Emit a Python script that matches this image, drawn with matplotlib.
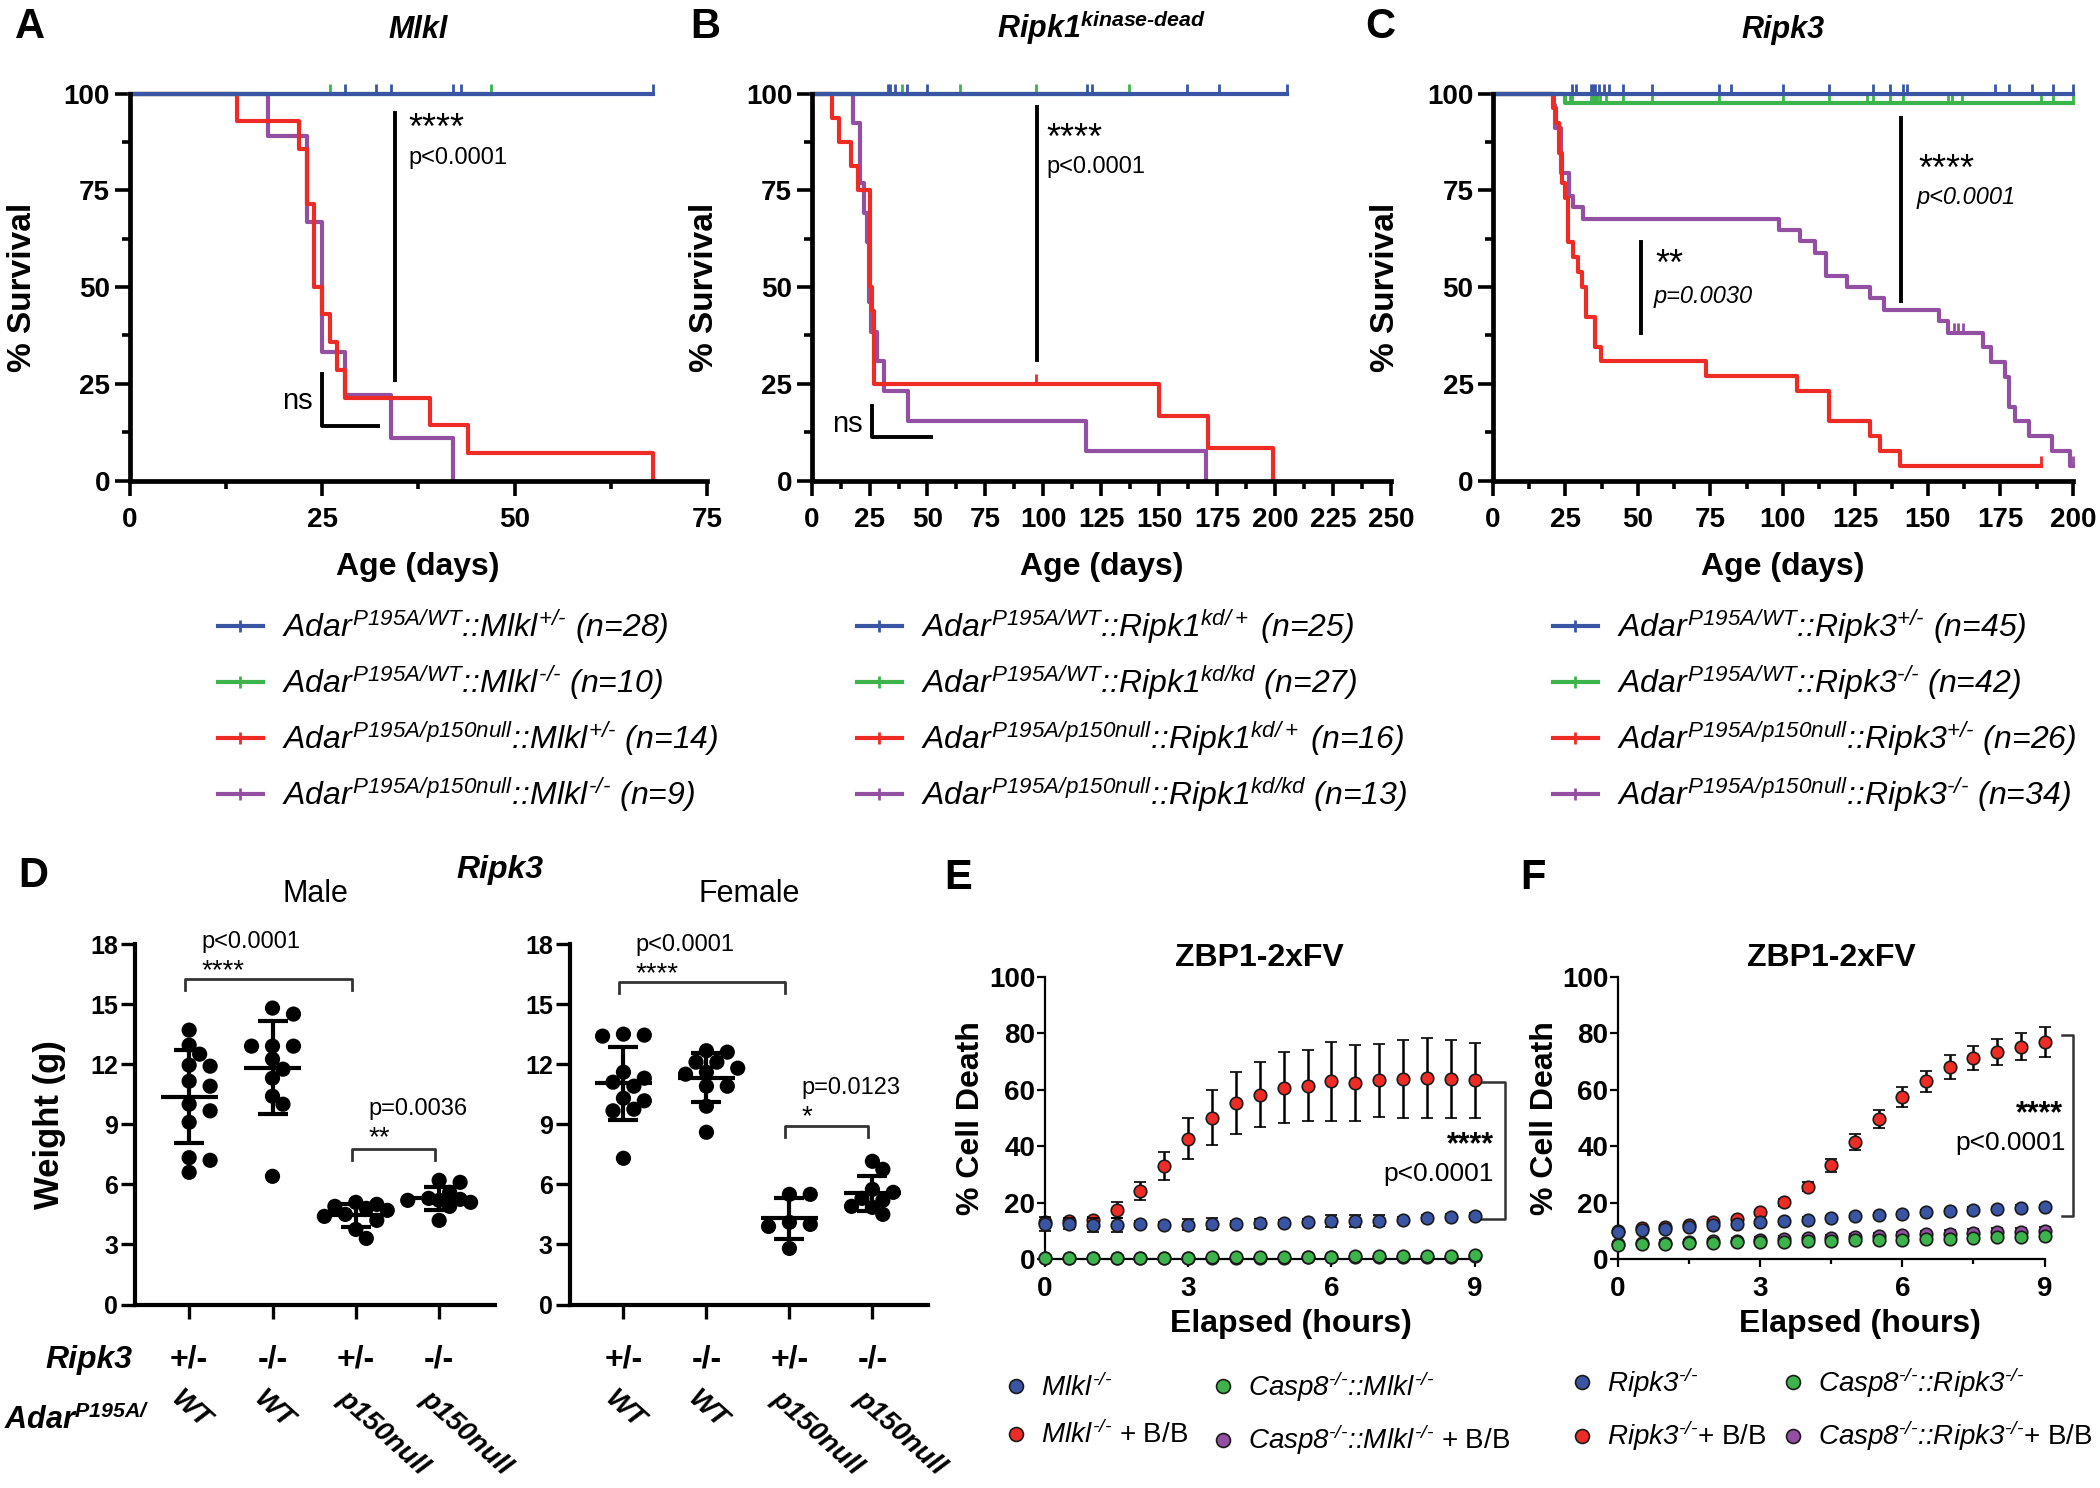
import numpy as np
import matplotlib
matplotlib.use('Agg')
import matplotlib.pyplot as plt
import matplotlib.transforms as mtransforms
from matplotlib.lines import Line2D
from matplotlib.ticker import MultipleLocator

# ============================================================================
# DATA
# ============================================================================
# Kaplan-Meier step curves: event times (days) and % survival after each step,
# plus censoring times.
# --- A: Mlkl
mlkl_wt_het_t = [0, 68]
mlkl_wt_het_s = [100, 100]
mlkl_wt_het_cens = [28, 32, 34, 42, 43, 68]
mlkl_wt_ko_t = [0, 47]
mlkl_wt_ko_s = [100, 100]
mlkl_wt_ko_cens = [26, 47]
mlkl_mut_het_t = [0, 14, 22, 23, 24, 25, 26, 27, 28, 39, 44, 68]
mlkl_mut_het_s = [100, 92.9, 85.7, 71.4, 50.0, 42.9, 35.7, 28.6, 21.4, 14.3, 7.1, 0]
mlkl_mut_ko_t = [0, 18, 23, 25, 28, 34, 42]
mlkl_mut_ko_s = [100, 88.9, 66.7, 33.3, 22.2, 11.1, 0]

# --- B: Ripk1 kinase-dead
rk1_wt_het_t = [0, 205]
rk1_wt_het_s = [100, 100]
rk1_wt_het_cens = [33, 34, 36, 41, 50, 119, 121, 162, 176, 205]
rk1_wt_kd_t = [0, 137]
rk1_wt_kd_s = [100, 100]
rk1_wt_kd_cens = [39, 64, 97, 137]
rk1_mut_het_t = [0, 9, 12, 17, 20, 25, 26, 27, 150, 171, 199]
rk1_mut_het_s = [100, 93.75, 87.5, 81.25, 75.0, 50.0, 43.75, 25.0, 16.67, 8.33, 0]
rk1_mut_het_cens = [97]
rk1_mut_kd_t = [0, 18, 21, 22.5, 23.7, 24.7, 25.8, 28.3, 31.2, 41.4, 118.5, 170]
rk1_mut_kd_s = [100, 92.3, 76.9, 69.2, 61.5, 46.2, 38.5, 30.8, 23.1, 15.4, 7.7, 0]

# --- C: Ripk3
rk3_wt_het_t = [0, 200]
rk3_wt_het_s = [100, 100]
rk3_wt_het_cens = [27.3, 28.8, 33.9, 34.5, 35.2, 36.5, 38.3, 39.9, 45, 55, 78, 82, 100,
                   116, 131, 137, 141.6, 142.7, 173, 178, 186, 193, 200]
rk3_wt_ko_t = [0, 25, 200]
rk3_wt_ko_s = [100, 97.6, 97.6]
rk3_wt_ko_cens = [26.5, 27.3, 33.7, 34.5, 35.2, 36, 37, 39, 45, 55, 78, 100, 116, 129,
                  131, 137, 141.6, 157, 158.5, 161.7, 189, 193, 200]
rk3_mut_het_t = [0, 20.8, 21.9, 22.6, 23.7, 24.9, 26, 27.7, 29.3, 30.8, 32, 35.1, 37.3,
                 73.4, 105, 116, 130, 133.5, 140.4, 189]
rk3_mut_het_s = [100, 96.2, 92.3, 84.6, 76.9, 73.1, 61.5, 57.7, 53.8, 50.0, 42.3, 34.6, 30.8,
                 26.9, 23.1, 15.4, 11.5, 7.7, 3.8, 3.8]
rk3_mut_het_cens = [189]
rk3_mut_ko_t = [0, 21, 21.5, 23.6, 26.2, 27.6, 31, 98.5, 106, 111, 115, 122, 130, 135, 154,
                157, 169, 171.7, 176.7, 178, 180, 185, 192.8, 199, 200]
rk3_mut_ko_s = [100, 97.1, 91.2, 79.4, 73.5, 70.6, 67.6, 64.7, 61.8, 58.8, 52.9, 50.0, 47.1,
                44.1, 41.2, 38.2, 34.4, 30.6, 26.7, 19.1, 15.3, 11.5, 7.6, 3.8, 3.8]
rk3_mut_ko_cens = [159, 160.5, 162, 200]

# --- D: body weight (g)
male_wt_het = [13.7, 12.95, 12.5, 11.95, 11.9, 11.15, 10.9, 10.0, 9.67, 9.1, 7.33, 7.2, 6.6]
male_wt_ko = [14.8, 14.5, 12.9, 12.9, 12.9, 12.25, 11.75, 11.3, 10.4, 10.0, 6.4]
male_mut_het = [5.1, 5.0, 4.9, 4.8, 4.7, 4.5, 4.4, 4.2, 3.75, 3.3]
male_mut_ko = [6.2, 6.1, 5.6, 5.3, 5.25, 5.2, 5.2, 5.1, 4.9, 4.2]
female_wt_het = [13.5, 13.45, 13.4, 11.6, 11.3, 11.1, 10.9, 10.3, 10.17, 9.75, 9.67, 7.3]
female_wt_ko = [12.67, 12.6, 12.1, 12.1, 11.8, 11.6, 11.5, 10.9, 10.9, 9.9, 8.6]
female_mut_het = [5.5, 5.5, 4.1, 4.0, 3.9, 2.8]
female_mut_ko = [7.15, 6.75, 5.75, 5.6, 5.3, 5.2, 4.9, 4.85, 4.5]
ripk3_geno = ['+/-', '-/-', '+/-', '-/-']
adar_geno = ['WT', 'WT', 'p150null', 'p150null']

# --- E / F: % cell death over time (mean, SD)
hours = [0, 0.5, 1, 1.5, 2, 2.5, 3, 3.5, 4, 4.5, 5, 5.5, 6, 6.5, 7, 7.5, 8, 8.5, 9]
e_ko = [12.5, 12.5, 12.2, 12.2, 12.3, 12.1, 12.2, 12.5, 12.5, 12.6, 12.8, 13.2, 13.5,
        13.5, 13.6, 14.0, 14.5, 14.8, 15.2]
e_ko_sd = [2.5, 2, 2.5, 2.5, 1, 1, 2, 2, 1, 1.5, 1, 1, 2, 2, 2, 1, 1, 1, 1]
e_ko_bb = [13, 13.3, 14, 17.4, 24.2, 33.1, 42.7, 50.1, 55.3, 58.3, 60.8, 61.5, 63, 62.5,
           63.3, 63.8, 64.3, 63.8, 63.3]
e_ko_bb_sd = [1, 1, 1, 2.7, 3.2, 5, 7.2, 9.7, 11, 11.5, 12.5, 12.6, 14.1, 13.5, 13, 13.7,
              14.2, 13.7, 13.4]
e_c8 = [0.3, 0.4, 0.4, 0.5, 0.5, 0.5, 0.5, 0.6, 0.6, 0.7, 0.7, 0.8, 0.8, 0.9, 0.9, 1.0,
        1.1, 1.2, 1.4]
e_c8_sd = [0.3] * 19
e_c8_bb = [0.2, 0.2, 0.3, 0.3, 0.3, 0.4, 0.4, 0.4, 0.5, 0.5, 0.5, 0.6, 0.6, 0.6, 0.7, 0.7,
           0.8, 0.8, 0.9]
e_c8_bb_sd = [0.3] * 19

f_ko = [9.5, 10.4, 10.8, 11.4, 12.1, 12.4, 13, 13.3, 14, 14.5, 15.2, 15.5, 16, 16.5, 17,
        17.5, 17.8, 18.2, 18.5]
f_ko_sd = [0.8] * 19
f_ko_bb = [10, 11, 11.5, 12, 13, 14.2, 16.5, 20.1, 25.7, 33.2, 41.5, 49.6, 57.4, 63, 68.1,
           71.4, 73.4, 75.3, 77]
f_ko_bb_sd = [0.5, 0.5, 0.5, 0.5, 0.7, 0.8, 1, 1.2, 1.5, 2.4, 2.9, 3.1, 3.6, 3.7, 4.2, 4.3,
              4.6, 4.7, 5.2]
f_c8 = [4.9, 5.2, 5.3, 5.5, 5.8, 5.9, 6.2, 6.2, 6.4, 6.5, 6.6, 6.8, 6.9, 7.2, 7.2, 7.5,
        7.8, 7.9, 8.2]
f_c8_sd = [0.6] * 19
f_c8_bb = [5.3, 5.6, 5.8, 6.0, 6.3, 6.5, 6.8, 7.0, 7.3, 7.5, 7.8, 8.0, 8.4, 8.7, 9.0, 9.2,
           9.4, 9.6, 9.8]
f_c8_bb_sd = [0.8, 0.8, 0.8, 0.8, 0.9, 0.9, 1, 1, 1, 1.1, 1.1, 1.2, 1.3, 1.3, 1.4, 1.4,
              1.5, 1.5, 1.6]

# ============================================================================
# STYLE
# ============================================================================
W, H = 2100, 1488
BLUE = '#3a55a4'
GREEN = '#3cb44b'
RED = '#ee2b25'
PURPLE = '#9350a3'
HY = '\u2010'  # real hyphen (mathtext turns '-' into a long minus)

plt.rcParams.update({
    'font.family': 'Liberation Sans',
    'mathtext.fontset': 'custom',
    'mathtext.rm': 'Liberation Sans:italic',
    'mathtext.it': 'Liberation Sans:italic',
    'mathtext.bf': 'Liberation Sans:italic:bold',
    'mathtext.sf': 'Liberation Sans',
})

fig = plt.figure(figsize=(W / 100, H / 100), dpi=100)


def add_axes_px(left, top, right, bottom):
    return fig.add_axes([left / W, 1 - bottom / H, (right - left) / W, (bottom - top) / H])


def fig_y(ypx):
    return 1 - ypx / H


def sup(s):
    return s.replace('-', HY)


def bold_ticks(ax):
    for lab in ax.get_xticklabels() + ax.get_yticklabels():
        lab.set_fontweight('bold')


def km_curve(ax, t, s, cens, color):
    ax.step(t, s, where='post', color=color, lw=3.0, clip_on=False)
    if cens:
        idx = np.searchsorted(t, cens, side='right') - 1
        ax.plot(cens, np.asarray(s)[idx], ls='none', marker=2, ms=7, mew=2,
                color=color, clip_on=False)


def survival_axes(ax, xmax, title):
    ax.set_xlim(0, xmax)
    ax.set_ylim(0, 100)
    ax.xaxis.set_major_locator(MultipleLocator(25))
    ax.xaxis.set_minor_locator(MultipleLocator(12.5))
    ax.yaxis.set_major_locator(MultipleLocator(25))
    ax.yaxis.set_minor_locator(MultipleLocator(12.5))
    for side in ('top', 'right'):
        ax.spines[side].set_visible(False)
    for side in ('left', 'bottom'):
        ax.spines[side].set_linewidth(3.4)
    ax.tick_params(which='major', length=11, width=2.6, labelsize=20)
    ax.tick_params(which='minor', length=6, width=2.6)
    ax.tick_params(axis='x', pad=8)
    ax.tick_params(axis='y', pad=3)
    bold_ticks(ax)
    ax.set_xlabel('Age (days)', fontsize=23, fontweight='bold', va='center')
    ax.xaxis.set_label_coords(0.5, -(567 - 480.5) / 387)
    ax.set_ylabel('% Survival', fontsize=24, fontweight='bold', va='center')
    ax.yaxis.set_label_coords(-107 / 578, 0.5)
    ax.set_title(title, fontsize=22, fontweight='bold', fontstyle='italic', pad=40)


def km_legend(ax, labels, colors, x_px):
    handles = [Line2D([0], [0], color=c, lw=3, marker='|', ms=8, mew=2) for c in colors]
    ax.legend(handles, [sup(l) for l in labels], loc='upper left',
              bbox_to_anchor=(x_px / W, fig_y(607)),
              bbox_transform=fig.transFigure, frameon=False, borderaxespad=0, borderpad=0,
              handlelength=1.4, handletextpad=0.6, labelspacing=0.53,
              prop={'size': 23, 'style': 'italic'})


km_colors = [BLUE, GREEN, RED, PURPLE]

# ---------------------------------------------------------------- panel A
axA = add_axes_px(129.5, 93.5, 707, 480.5)
km_curve(axA, mlkl_mut_ko_t, mlkl_mut_ko_s, [], PURPLE)
km_curve(axA, mlkl_mut_het_t, mlkl_mut_het_s, [], RED)
km_curve(axA, mlkl_wt_ko_t, mlkl_wt_ko_s, mlkl_wt_ko_cens, GREEN)
km_curve(axA, mlkl_wt_het_t, mlkl_wt_het_s, mlkl_wt_het_cens, BLUE)
survival_axes(axA, 75, 'Mlkl')
axA.plot([34.5, 34.5], [26, 95], color='black', lw=2.8)
axA.text(36.2, 90.6, '****', fontsize=26, va='center')
axA.text(36.2, 83.4, 'p<0.0001', fontsize=17, va='center')
axA.plot([25, 25, 32.3], [27.5, 14.1, 14.1], color='black', lw=2.8)
axA.text(23.8, 20.6, 'ns', fontsize=21, ha='right', va='center')
km_legend(axA, [r'$Adar^{P195A/WT}$::$Mlkl^{+/-}$ (n=28)',
                r'$Adar^{P195A/WT}$::$Mlkl^{-/-}$ (n=10)',
                r'$Adar^{P195A/p150null}$::$Mlkl^{+/-}$ (n=14)',
                r'$Adar^{P195A/p150null}$::$Mlkl^{-/-}$ (n=9)'], km_colors, 218)

# ---------------------------------------------------------------- panel B
axB = add_axes_px(811.6, 93.5, 1391, 480.5)
km_curve(axB, rk1_mut_kd_t, rk1_mut_kd_s, [], PURPLE)
km_curve(axB, rk1_mut_het_t, rk1_mut_het_s, rk1_mut_het_cens, RED)
km_curve(axB, rk1_wt_kd_t, rk1_wt_kd_s, rk1_wt_kd_cens, GREEN)
km_curve(axB, rk1_wt_het_t, rk1_wt_het_s, rk1_wt_het_cens, BLUE)
survival_axes(axB, 250, r'$\mathbf{Ripk1}^{\mathbf{kinase' + HY + 'dead}}$')
axB.plot([97.3, 97.3], [31.1, 96.5], color='black', lw=2.8)
axB.text(101.5, 88, '****', fontsize=26, va='center')
axB.text(101.5, 80.9, 'p<0.0001', fontsize=17, va='center')
axB.plot([26, 26, 51.6], [19.3, 11.2, 11.2], color='black', lw=2.8)
axB.text(22.2, 14.6, 'ns', fontsize=21, ha='right', va='center')
km_legend(axB, [r'$Adar^{P195A/WT}$::$Ripk1^{kd/+}$ (n=25)',
                r'$Adar^{P195A/WT}$::$Ripk1^{kd/kd}$ (n=27)',
                r'$Adar^{P195A/p150null}$::$Ripk1^{kd/+}$ (n=16)',
                r'$Adar^{P195A/p150null}$::$Ripk1^{kd/kd}$ (n=13)'], km_colors, 857)

# ---------------------------------------------------------------- panel C
axC = add_axes_px(1493, 93.5, 2072.8, 480.5)
km_curve(axC, rk3_mut_ko_t, rk3_mut_ko_s, rk3_mut_ko_cens, PURPLE)
km_curve(axC, rk3_mut_het_t, rk3_mut_het_s, rk3_mut_het_cens, RED)
km_curve(axC, rk3_wt_ko_t, rk3_wt_ko_s, rk3_wt_ko_cens, GREEN)
km_curve(axC, rk3_wt_het_t, rk3_wt_het_s, rk3_wt_het_cens, BLUE)
survival_axes(axC, 200, 'Ripk3')
axC.plot([51.1, 51.1], [38.1, 61.5], color='black', lw=2.8)
axC.text(56, 55.6, '**', fontsize=26, va='center')
axC.text(55.5, 47.5, 'p=0.0030', fontsize=17, fontstyle='italic', va='center')
axC.plot([140.9, 140.9], [46.4, 93.6], color='black', lw=2.8)
axC.text(146.6, 80.2, '****', fontsize=26, va='center')
axC.text(146, 73, 'p<0.0001', fontsize=17, fontstyle='italic', va='center')
km_legend(axC, [r'$Adar^{P195A/WT}$::$Ripk3^{+/-}$ (n=45)',
                r'$Adar^{P195A/WT}$::$Ripk3^{-/-}$ (n=42)',
                r'$Adar^{P195A/p150null}$::$Ripk3^{+/-}$ (n=26)',
                r'$Adar^{P195A/p150null}$::$Ripk3^{-/-}$ (n=34)'], km_colors, 1553)


# ---------------------------------------------------------------- panel D
def swarm_offsets(vals, px_x, px_y, diam=14.0):
    # simple beeswarm: nudge points sideways until they stop overlapping
    vals = np.asarray(vals, float)
    offs = np.zeros(len(vals))
    placed = []
    step = diam * 0.75
    cands = [0.0]
    for k in range(1, 4):
        cands += [k * step, -k * step]
    for i in np.argsort(vals)[::-1]:
        y = vals[i] * px_y
        best, best_d = 0.0, -1.0
        for c in cands:
            d = min([np.hypot(c - px, y - py) for px, py in placed] or [1e9])
            if d >= diam * 0.9:
                best = c
                break
            if d > best_d:
                best, best_d = c, d
        placed.append((best, y))
        offs[i] = best / px_x
    return offs


def weight_panel(ax, groups, title, brackets):
    px_x = 83.5
    px_y = 20.0
    for i, vals in enumerate(groups):
        vals = np.asarray(vals)
        xs = i + swarm_offsets(vals, px_x, px_y)
        ax.scatter(xs, vals, s=120, color='black', edgecolors='none', zorder=3, clip_on=False)
        m, sd = vals.mean(), vals.std(ddof=1)
        ax.hlines(m, i - 0.34, i + 0.34, color='black', lw=3, zorder=4)
        ax.errorbar(i, m, yerr=sd, fmt='none', ecolor='black', elinewidth=3,
                    capsize=10.5, capthick=3, zorder=4)
    for x1, x2, yb, ptxt, star, ytxt in brackets:
        ax.plot([x1, x1, x2, x2], [yb - 0.55, yb, yb, yb - 0.55], color='#333333', lw=2)
        ax.text(x1 + 0.2, ytxt - 1.45, star, fontsize=20, va='center')
        ax.text(x1 + 0.2, ytxt, ptxt, fontsize=17, va='center')
    ax.set_ylim(0, 18)
    ax.set_xlim(-0.65, 3.67)
    ax.set_xticks(range(4))
    ax.set_xticklabels([])
    ax.yaxis.set_major_locator(MultipleLocator(3))
    for side in ('top', 'right'):
        ax.spines[side].set_visible(False)
    for side in ('left', 'bottom'):
        ax.spines[side].set_linewidth(3)
    ax.tick_params(length=10, width=2.4, labelsize=18, pad=2)
    bold_ticks(ax)
    ax.set_title(title, fontsize=22, pad=30)
    tr = mtransforms.blended_transform_factory(ax.transData, fig.transFigure)
    for i in range(4):
        ax.text(i, fig_y(1360), ripk3_geno[i], transform=tr, fontsize=23, fontweight='bold',
                ha='center', va='center')
        ax.text(i - 0.07, fig_y(1386), adar_geno[i], transform=tr, fontsize=20,
                fontweight='bold', fontstyle='italic', rotation=-42, rotation_mode='anchor',
                ha='left', va='top')


axDm = add_axes_px(135, 944, 495, 1304.5)
weight_panel(axDm, [male_wt_het, male_wt_ko, male_mut_het, male_mut_ko], 'Male',
             [(-0.05, 1.95, 16.25, 'p<0.0001', '****', 18.1),
              (1.95, 2.95, 7.75, 'p=0.0036', '**', 9.75)])
axDm.set_ylabel('Weight (g)', fontsize=25, fontweight='bold', va='center')
axDm.yaxis.set_label_coords(-85 / 360, 0.5)

axDf = add_axes_px(569.5, 944, 928, 1304.5)
weight_panel(axDf, [female_wt_het, female_wt_ko, female_mut_het, female_mut_ko], 'Female',
             [(-0.05, 1.95, 16.1, 'p<0.0001', '****', 17.95),
              (1.95, 2.95, 8.9, 'p=0.0123', '*', 10.8)])

fig.text(500 / W, fig_y(870), 'Ripk3', fontsize=23, fontweight='bold', fontstyle='italic',
         ha='center', va='center')
fig.text(132 / W, fig_y(1360), 'Ripk3', fontsize=23, fontweight='bold', fontstyle='italic',
         ha='right', va='center')
fig.text(150 / W, fig_y(1420), r'$\mathbf{Adar}^{\mathbf{P195A/}}$', fontsize=22,
         ha='right', va='center')


# ---------------------------------------------------------------- panels E, F
def death_series(ax, mean, sd, color, zorder):
    cont = ax.errorbar(hours, mean, yerr=sd, fmt='o', ms=9, mfc=color, mec='#1a1a1a',
                       mew=1.2, ecolor='black', elinewidth=1.8, capsize=4.5, capthick=1.8,
                       zorder=zorder)
    cont[0].set_clip_on(False)
    for art in cont[1] + cont[2]:
        art.set_clip_on(False)


def death_axes(ax, xlabel_x):
    ax.set_xlim(0, 9)
    ax.set_ylim(0, 100)
    ax.xaxis.set_major_locator(MultipleLocator(3))
    ax.xaxis.set_minor_locator(MultipleLocator(1.5))
    ax.yaxis.set_major_locator(MultipleLocator(20))
    for side in ('top', 'right'):
        ax.spines[side].set_visible(False)
    for side in ('left', 'bottom'):
        ax.spines[side].set_linewidth(1.6)
    ax.tick_params(which='major', length=6, width=1.6, labelsize=20)
    ax.tick_params(which='minor', length=3.5, width=1.6)
    ax.tick_params(axis='x', pad=6)
    ax.tick_params(axis='y', pad=1)
    bold_ticks(ax)
    ax.set_title('ZBP1-2xFV', fontsize=23, fontweight='bold', pad=8)
    ax.set_xlabel('Elapsed (hours)', fontsize=23, fontweight='bold', va='center')
    ax.xaxis.set_label_coords(xlabel_x, -(1324 - 1259) / 282)
    ax.set_ylabel('% Cell Death', fontsize=23, fontweight='bold', va='center')
    ax.yaxis.set_label_coords(-74 / 430, 0.5)


def death_legend(ax, labels, colors, x_px, y_px, colsp, size):
    handles = [Line2D([0], [0], ls='none', marker='o', ms=10, mfc=c, mec='#1a1a1a', mew=1.2)
               for c in colors]
    ax.legend(handles, [sup(l) for l in labels], ncol=2, loc='upper left',
              bbox_to_anchor=(x_px / W, fig_y(y_px)), bbox_transform=fig.transFigure,
              frameon=False, borderaxespad=0, borderpad=0, handlelength=0.8,
              handletextpad=0.5, labelspacing=0.7, columnspacing=colsp,
              prop={'size': size, 'style': 'italic'})


axE = add_axes_px(1045, 977, 1474.6, 1259)
death_series(axE, e_c8_bb, e_c8_bb_sd, PURPLE, 2)
death_series(axE, e_ko_bb, e_ko_bb_sd, RED, 3)
death_series(axE, e_ko, e_ko_sd, BLUE, 4)
death_series(axE, e_c8, e_c8_sd, GREEN, 5)
death_axes(axE, 0.573)
axE.plot([9.1, 9.63, 9.63, 9.1], [62.9, 62.9, 14.3, 14.3], color='#333333', lw=1.8,
         clip_on=False)
axE.text(9.4, 40.5, '****', fontsize=22, fontweight='bold', ha='right', va='center')
axE.text(9.4, 30.2, 'p<0.0001', fontsize=19, ha='right', va='center')
death_legend(axE, [r'$Mlkl^{-/-}$', r'$Mlkl^{-/-}\ \mathsf{+\ B/B}$',
                   r'$Casp8^{-/-}$::$Mlkl^{-/-}$', r'$Casp8^{-/-}$::$Mlkl^{-/-}\ \mathsf{+\ B/B}$'],
             [BLUE, RED, GREEN, PURPLE], 1005, 1369, 0.85, 20)

axF = add_axes_px(1618, 977, 2044.6, 1259)
death_series(axF, f_c8_bb, f_c8_bb_sd, PURPLE, 2)
death_series(axF, f_ko_bb, f_ko_bb_sd, RED, 3)
death_series(axF, f_ko, f_ko_sd, BLUE, 4)
death_series(axF, f_c8, f_c8_sd, GREEN, 5)
death_axes(axF, 0.567)
axF.plot([9.37, 9.6, 9.6, 9.37], [79.5, 79.5, 15.2, 15.2], color='#333333', lw=1.8,
         clip_on=False)
axF.text(9.39, 51.5, '****', fontsize=22, fontweight='bold', ha='right', va='center')
axF.text(9.45, 41.2, 'p<0.0001', fontsize=19, ha='right', va='center')
death_legend(axF, [r'$Ripk3^{-/-}$', r'$Ripk3^{-/-}\mathsf{+\ B/B}$',
                   r'$Casp8^{-/-}$::$Ripk3^{-/-}$', r'$Casp8^{-/-}$::$Ripk3^{-/-}\mathsf{+\ B/B}$'],
             [BLUE, RED, GREEN, PURPLE], 1571, 1365, 0.55, 20)

# ---------------------------------------------------------------- panel letters
for letter, x, y in [('A', 15, 7), ('B', 690, 7), ('C', 1365, 7),
                     ('D', 18, 856), ('E', 944, 858), ('F', 1520, 858)]:
    fig.text(x / W, fig_y(y), letter, fontsize=30, fontweight='bold', ha='left', va='top')

fig.savefig('out.png', dpi=100)
